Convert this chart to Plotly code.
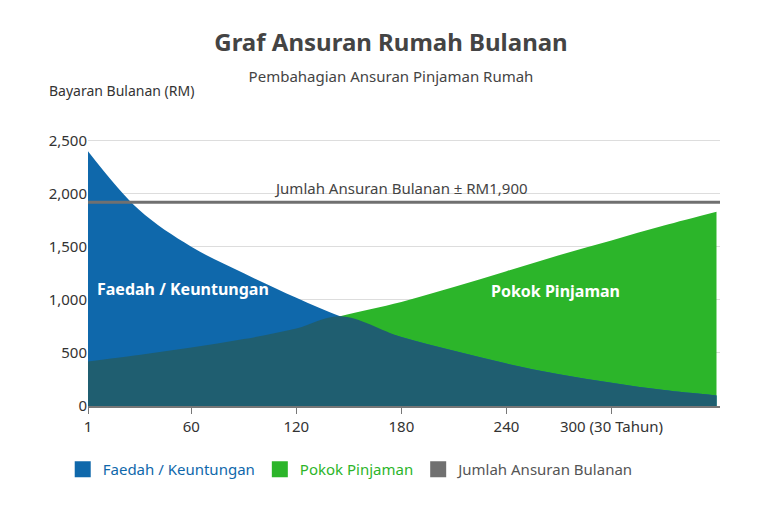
import numpy as np
import plotly.graph_objects as go

# Data (bulan vs bayaran RM)
bulan = [1, 30, 60, 90, 120, 145, 180, 210, 240, 270, 300, 330, 360]
faedah = [2400, 1850, 1500, 1250, 1020, 845, 650, 520, 400, 300, 220, 150, 100]
pokok = [420, 480, 550, 630, 730, 845, 980, 1120, 1270, 1420, 1560, 1700, 1830]
jumlah = 1920
tick_vals = [1, 60, 120, 180, 240, 300]
tick_text = ["1", "60", "120", "180", "240", "300 (30 Tahun)"]

BLUE = "#0f68ab"
GREEN = "#2cb52a"
OVERLAP = "#1f5e70"
GREY = "#707070"
FONT = "Noto Sans"

fig = go.Figure()
fig.add_trace(go.Scatter(x=bulan, y=pokok, fill="tozeroy", mode="lines",
                         line=dict(color=GREEN, width=0, shape="spline"),
                         fillcolor=GREEN, showlegend=False))
fig.add_trace(go.Scatter(x=bulan, y=faedah, fill="tozeroy", mode="lines",
                         line=dict(color=BLUE, width=0, shape="spline"),
                         fillcolor=BLUE, showlegend=False))
fig.add_trace(go.Scatter(x=bulan, y=np.minimum(faedah, pokok), fill="tozeroy",
                         mode="lines", line=dict(color=OVERLAP, width=0, shape="spline"),
                         fillcolor=OVERLAP, showlegend=False))
fig.add_trace(go.Scatter(x=[1, 362], y=[jumlah, jumlah], mode="lines",
                         line=dict(color=GREY, width=3), showlegend=False))

# legend entries as squares
for name, col, tc in [("Faedah / Keuntungan", BLUE, BLUE),
                      ("Pokok Pinjaman", GREEN, GREEN),
                      ("Jumlah Ansuran Bulanan", GREY, "#555555")]:
    fig.add_trace(go.Scatter(x=[None], y=[None], mode="markers",
                             name=f"<span style='color:{tc}'>{name}</span>",
                             marker=dict(symbol="square", size=18, color=col)))

fig.add_annotation(x=180, y=jumlah, text="Jumlah Ansuran Bulanan ± RM1,900",
                   showarrow=False, yshift=14, font=dict(size=15, color="#444"))
fig.add_annotation(x=55, y=1100, text="<b>Faedah / Keuntungan</b>",
                   showarrow=False, font=dict(size=16, color="white"))
fig.add_annotation(x=268, y=1080, text="<b>Pokok Pinjaman</b>",
                   showarrow=False, font=dict(size=16, color="white"))
fig.add_annotation(x=38, y=100, xref="paper", yref="paper", xanchor="left",
                   text="Bayaran Bulanan (RM)", showarrow=False,
                   font=dict(size=14, color="#333"))
fig.update_annotations(selector=dict(text="Bayaran Bulanan (RM)"),
                       x=-0.065, y=1.1, xanchor="left", yanchor="bottom")

fig.update_layout(
    width=766, height=506,
    font=dict(family=FONT, color="#333"),
    title=dict(text="<b>Graf Ansuran Rumah Bulanan</b><br>"
                    "<span style='font-size:15px'>Pembahagian Ansuran Pinjaman Rumah</span>",
               x=0.5, y=0.915, yanchor="middle", font=dict(size=24, color="#444")),
    margin=dict(l=80, r=54, t=122, b=108),
    plot_bgcolor="white", paper_bgcolor="white",
    legend=dict(orientation="h", x=-0.04, xanchor="left", y=-0.17,
                font=dict(size=15), itemwidth=30),
    xaxis=dict(range=[1, 362], tickvals=tick_vals, ticktext=tick_text,
               showgrid=False, showline=True, linecolor="#777", linewidth=1.5,
               ticks="outside", tickcolor="#777", ticklen=6,
               tickfont=dict(size=15, color="#333")),
    yaxis=dict(range=[0, 2600], tickvals=[0, 500, 1000, 1500, 2000, 2500],
               tickformat=",", showgrid=True, gridcolor="#dddddd",
               zeroline=False, tickfont=dict(size=15, color="#333")),
)

fig.write_html("out.html")
